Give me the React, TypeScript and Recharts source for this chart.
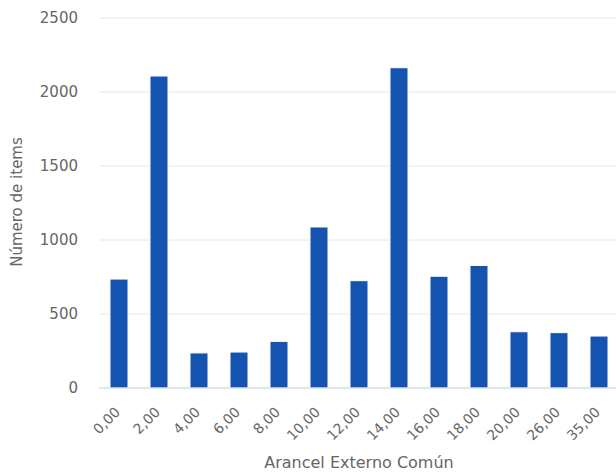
import React from 'react';
import { BarChart, Bar, XAxis, YAxis, CartesianGrid, Label } from 'recharts';

const categories = ['0,00', '2,00', '4,00', '6,00', '8,00', '10,00', '12,00', '14,00', '16,00', '18,00', '20,00', '26,00', '35,00'];
const items = [736, 2108, 237, 243, 315, 1088, 725, 2164, 755, 828, 380, 374, 351];
const yTicks = [0, 500, 1000, 1500, 2000, 2500];

const data = categories.map((c, i) => ({ cat: c, value: items[i] }));

const FONT = '"DejaVu Sans", sans-serif';

const XTick = (props: any) => {
  const { x, y, payload } = props;
  const ax = x + 2;
  const ay = y + 17;
  return (
    <text
      x={ax}
      y={ay}
      transform={`rotate(-45, ${ax}, ${ay})`}
      textAnchor="end"
      fill="#666666"
      fontSize={14}
      fontFamily={FONT}
    >
      {payload.value}
    </text>
  );
};

const YTitle = (props: any) => {
  const vb = props.viewBox;
  const cy = vb.y + 184;
  return (
    <text
      x={22}
      y={cy}
      transform={`rotate(-90, 22, ${cy})`}
      textAnchor="middle"
      fill="#666666"
      fontSize={15}
      fontFamily={FONT}
    >
      Número de items
    </text>
  );
};

const XTitle = (props: any) => {
  const vb = props.viewBox;
  const cx = vb.x + vb.width / 2;
  return (
    <text x={cx} y={468} textAnchor="middle" fill="#666666" fontSize={16} fontFamily={FONT}>
      Arancel Externo Común
    </text>
  );
};

export default function App() {
  return (
    <div style={{ position: 'absolute', left: 0, top: 0, width: 616, height: 473, overflow: 'hidden', background: '#fff' }}>
      <BarChart
        width={624}
        height={473}
        data={data}
        margin={{ top: 18, right: 5, bottom: 0, left: 0 }}
        barCategoryGap={11}
      >
        <CartesianGrid vertical={false} stroke="#e6e6e6" />
        <XAxis
          dataKey="cat"
          interval={0}
          height={85}
          tickLine={false}
          axisLine={{ stroke: '#ccd6eb' }}
          tick={<XTick />}
        >
          <Label content={<XTitle />} />
        </XAxis>
        <YAxis
          width={99}
          domain={[0, 2500]}
          ticks={yTicks}
          tickLine={false}
          axisLine={false}
          tickSize={0}
          tickMargin={21}
          tick={{ fill: '#666666', fontSize: 15, fontFamily: FONT }}
        >
          <Label content={<YTitle />} />
        </YAxis>
        <Bar dataKey="value" fill="#1553b0" stroke="#ffffff" strokeWidth={1} isAnimationActive={false} />
      </BarChart>
    </div>
  );
}
